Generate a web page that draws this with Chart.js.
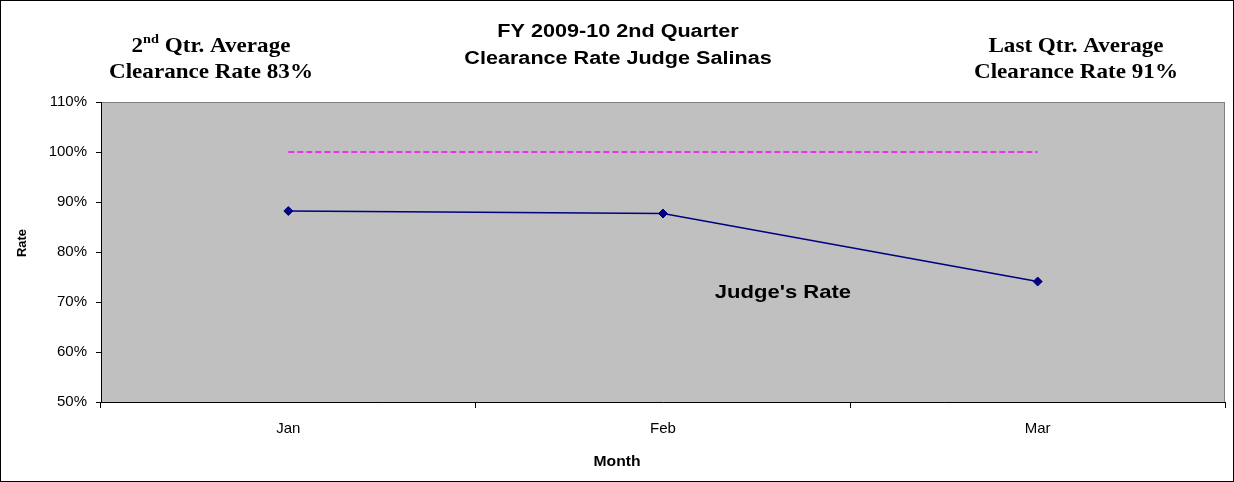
<!DOCTYPE html>
<html>
<head>
<meta charset="utf-8">
<script src="https://cdn.jsdelivr.net/npm/chart.js@4.4.1/dist/chart.umd.min.js"></script>
<style>
  html, body { margin: 0; padding: 0; background: #fff; }
  canvas { display: block; }
</style>
</head>
<body>
<canvas id="chart" width="1234" height="482"></canvas>
<script>
  // data
  const months = ['Jan', 'Feb', 'Mar'];
  const judgeRate = [88.2, 87.7, 74.1];
  const targetRate = [100, 100, 100];
  const yTicks = { min: 50, max: 110, step: 10 };

  const SANS = "Arial, 'Liberation Sans', sans-serif";
  const SERIF = "'Times New Roman', 'Liberation Serif', serif";

  // text in the reference is a bit wider than the font, so stretch it horizontally
  function wideText(ctx, text, x, y, sx) {
    ctx.save();
    ctx.translate(x, y);
    ctx.scale(sx, 1);
    ctx.fillText(text, 0, 0);
    ctx.restore();
  }

  const decorations = {
    id: 'decorations',
    beforeDraw(chart) {
      const { ctx, chartArea: a } = chart;
      ctx.save();
      ctx.fillStyle = '#fff';
      ctx.fillRect(0, 0, chart.width, chart.height);
      ctx.fillStyle = '#C0C0C0';
      ctx.fillRect(a.left, a.top, a.right - a.left, a.bottom - a.top);
      ctx.strokeStyle = '#808080';
      ctx.lineWidth = 1;
      ctx.strokeRect(a.left + 0.5, a.top + 0.5, a.right - a.left - 1, a.bottom - a.top);
      ctx.restore();
    },
    afterDraw(chart) {
      const { ctx, scales } = chart;
      ctx.save();
      ctx.strokeStyle = '#000';
      ctx.lineWidth = 1;
      ctx.strokeRect(0.5, 0.5, chart.width - 1, chart.height - 1);

      ctx.fillStyle = '#000';
      ctx.textBaseline = 'alphabetic';
      ctx.textAlign = 'center';

      // center title
      ctx.font = 'bold 18px ' + SANS;
      wideText(ctx, 'FY 2009-10 2nd Quarter', 618, 37, 1.2);
      wideText(ctx, 'Clearance Rate Judge Salinas', 618, 64, 1.2);

      // left note with superscript
      const sx = 1.1;
      ctx.font = 'bold 21px ' + SERIF;
      const p1 = '2', sup = 'nd', p2 = ' Qtr. Average';
      const w1 = ctx.measureText(p1).width * sx;
      const w3 = ctx.measureText(p2).width * sx;
      ctx.font = 'bold 13px ' + SERIF;
      const w2 = ctx.measureText(sup).width * sx;
      const x0 = 211 - (w1 + w2 + w3) / 2;
      ctx.textAlign = 'left';
      ctx.font = 'bold 21px ' + SERIF;
      wideText(ctx, p1, x0, 52, sx);
      ctx.font = 'bold 13px ' + SERIF;
      wideText(ctx, sup, x0 + w1, 43, sx);
      ctx.font = 'bold 21px ' + SERIF;
      wideText(ctx, p2, x0 + w1 + w2, 52, sx);
      ctx.textAlign = 'center';
      wideText(ctx, 'Clearance Rate 83%', 211, 78, sx);

      // right note
      wideText(ctx, 'Last Qtr. Average', 1076, 52, sx);
      wideText(ctx, 'Clearance Rate 91%', 1076, 78, sx);

      // axis titles, centred on the whole chart as in the reference
      ctx.font = 'bold 14px ' + SANS;
      wideText(ctx, 'Month', chart.width / 2, 466, 1.12);
      ctx.save();
      ctx.translate(26, chart.height / 2 + 2);
      ctx.rotate(-Math.PI / 2);
      ctx.font = 'bold 13px ' + SANS;
      ctx.fillText('Rate', 0, 0);
      ctx.restore();

      // series label inside the plot
      ctx.font = 'bold 19px ' + SANS;
      ctx.textBaseline = 'middle';
      wideText(ctx, "Judge's Rate", scales.x.getPixelForValue(1.32), scales.y.getPixelForValue(71.9), 1.16);
      ctx.restore();
    }
  };

  new Chart(document.getElementById('chart'), {
    type: 'line',
    data: {
      labels: months,
      datasets: [
        {
          label: "Judge's Rate",
          data: judgeRate,
          borderColor: '#000080',
          backgroundColor: '#000080',
          borderWidth: 1.75,
          pointStyle: 'rectRot',
          pointRadius: 4.5,
          pointBorderWidth: 1,
          tension: 0
        },
        {
          label: 'Target',
          data: targetRate,
          borderColor: '#FF00FF',
          borderWidth: 1.5,
          borderDash: [6, 3],
          pointRadius: 0,
          tension: 0
        }
      ]
    },
    options: {
      responsive: false,
      animation: false,
      layout: { padding: { left: 0, top: 102, right: 9, bottom: 0 } },
      plugins: {
        legend: { display: false },
        title: { display: false },
        tooltip: { enabled: false }
      },
      scales: {
        x: {
          offset: true,
          grid: { offset: true, drawOnChartArea: false, drawTicks: true, tickLength: 6, color: '#000' },
          border: { display: true, color: '#000', width: 1 },
          ticks: { color: '#000', font: { family: SANS, size: 15 }, padding: 12, maxRotation: 0 },
          afterFit(s) { s.height = 80; }
        },
        y: {
          min: yTicks.min,
          max: yTicks.max,
          grid: { drawOnChartArea: false, drawTicks: true, tickLength: 5, color: '#000' },
          border: { display: true, color: '#000', width: 1 },
          ticks: {
            stepSize: yTicks.step,
            color: '#000',
            font: { family: SANS, size: 15 },
            padding: 9,
            callback: v => v + '%'
          },
          afterFit(s) { s.width = 101; }
        }
      }
    },
    plugins: [decorations]
  });
</script>
</body>
</html>
